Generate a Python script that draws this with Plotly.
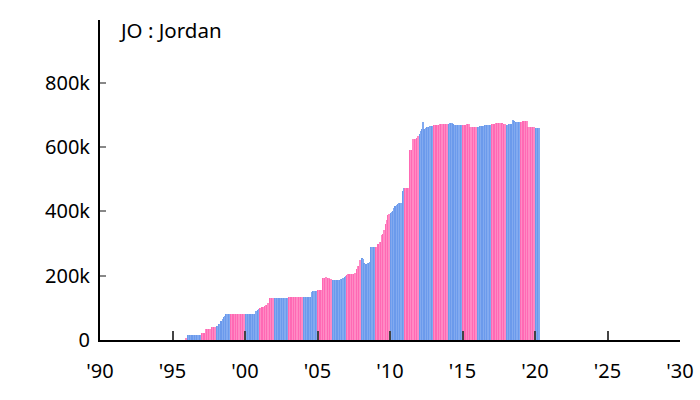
import plotly.graph_objects as go

start_year = 1995
start_month = 12
# monthly values (thousands), Dec 1995 .. Apr 2020
values_1995 = [6]
values_1996 = [16] * 12
values_1997 = [22, 22, 22, 33, 33, 33, 33, 33, 40, 40, 40, 40]
values_1998 = [42, 42, 50, 50, 60, 65, 71, 75, 81, 81, 81, 81]
values_1999 = [81] * 12
values_2000 = [81, 81, 81, 81, 81, 81, 81, 81, 81, 90, 93, 95]
values_2001 = [100, 100, 102, 104, 106, 108, 110, 115, 130, 132, 132, 132]
values_2002 = [132] * 12
values_2003 = [135] * 12
values_2004 = [135, 135, 135, 135, 135, 135, 135, 150, 153, 153, 153, 153]
values_2005 = [156, 156, 156, 156, 193, 193, 193, 195, 193, 193, 190, 190]
values_2006 = [187, 187, 187, 187, 187, 187, 188, 190, 190, 192, 195, 198]
values_2007 = [203, 204, 205, 206, 206, 206, 206, 208, 220, 231, 231, 250]
values_2008 = [255, 252, 240, 237, 237, 238, 240, 242, 290, 290, 290, 290]
values_2009 = [290, 290, 300, 304, 304, 327, 330, 342, 360, 373, 390, 392]
values_2010 = [396, 398, 400, 412, 417, 420, 422, 425, 427, 427, 464, 474]
values_2011 = [474, 474, 474, 474, 590, 590, 592, 625, 625, 625, 628, 635]
values_2012 = [640, 651, 656, 677, 655, 658, 661, 661, 662, 664, 665, 665]
values_2013 = [667, 668, 669, 669, 670, 671, 672, 672, 672, 672, 673, 673]
values_2014 = [673, 674, 676, 675, 673, 670, 667, 667, 667, 667, 667, 668]
values_2015 = [669, 669, 670, 671, 672, 672, 663, 661, 661, 661, 661, 662]
values_2016 = [663, 663, 664, 664, 664, 665, 667, 667, 667, 668, 670, 670]
values_2017 = [672, 673, 673, 674, 675, 675, 675, 675, 674, 671, 671, 671]
values_2018 = [670, 670, 671, 671, 671, 685, 680, 679, 679, 679, 679, 679]
values_2019 = [679, 679, 681, 681, 681, 681, 661, 661, 661, 661, 661, 661]
values_2020 = [660, 660, 659, 659]

all_values = (values_1995 + values_1996 + values_1997 + values_1998 + values_1999 +
              values_2000 + values_2001 + values_2002 + values_2003 + values_2004 +
              values_2005 + values_2006 + values_2007 + values_2008 + values_2009 +
              values_2010 + values_2011 + values_2012 + values_2013 + values_2014 +
              values_2015 + values_2016 + values_2017 + values_2018 + values_2019 +
              values_2020)

tick_years = [1990, 1995, 2000, 2005, 2010, 2015, 2020, 2025, 2030]
tick_labels = ["'90", "'95", "'00", "'05", "'10", "'15", "'20", "'25", "'30"]
y_ticks = [0, 200000, 400000, 600000, 800000]
y_labels = ["0", "200k", "400k", "600k", "800k"]

xs, ys, cols = [], [], []
for i, v in enumerate(all_values):
    m = start_month - 1 + i
    yr = start_year + m // 12
    mo = m % 12
    xs.append(yr + mo / 12 + 1 / 24)
    ys.append(v * 1000)
    if yr % 2 == 0:
        cols.append('#6b9aec' if mo % 2 == 0 else '#82aaf0')
    else:
        cols.append('#ff69b4' if mo % 2 == 0 else '#ff8ac4')

fig = go.Figure(go.Bar(x=xs, y=ys, width=1 / 12, marker=dict(color=cols, line=dict(width=0))))

fig.update_layout(
    width=700, height=400,
    margin=dict(l=100, r=20, t=20, b=60),
    plot_bgcolor='white', paper_bgcolor='white',
    font=dict(family='Noto Sans', size=20, color='black'),
    bargap=0, showlegend=False,
    annotations=[dict(text='JO : Jordan', xref='paper', yref='paper', x=0.03, y=1.02,
                      xanchor='left', yanchor='top', showarrow=False,
                      font=dict(size=20.5, color='black'))],
)
fig.update_xaxes(range=[1990, 2030], tickvals=tick_years, ticktext=tick_labels,
                 showgrid=False, zeroline=False, showline=True, linecolor='black', linewidth=2,
                 ticks='inside', ticklen=9, tickcolor='#444', tickwidth=1.5,
                 ticklabelstandoff=12, automargin=False)
fig.update_yaxes(range=[0, 995000], tickvals=y_ticks, ticktext=y_labels,
                 showgrid=False, zeroline=False, showline=True, linecolor='black', linewidth=2,
                 ticks='inside', ticklen=6, tickcolor='#888', tickwidth=1.5,
                 ticklabelstandoff=4, automargin=False)

fig.write_html('out.html')
